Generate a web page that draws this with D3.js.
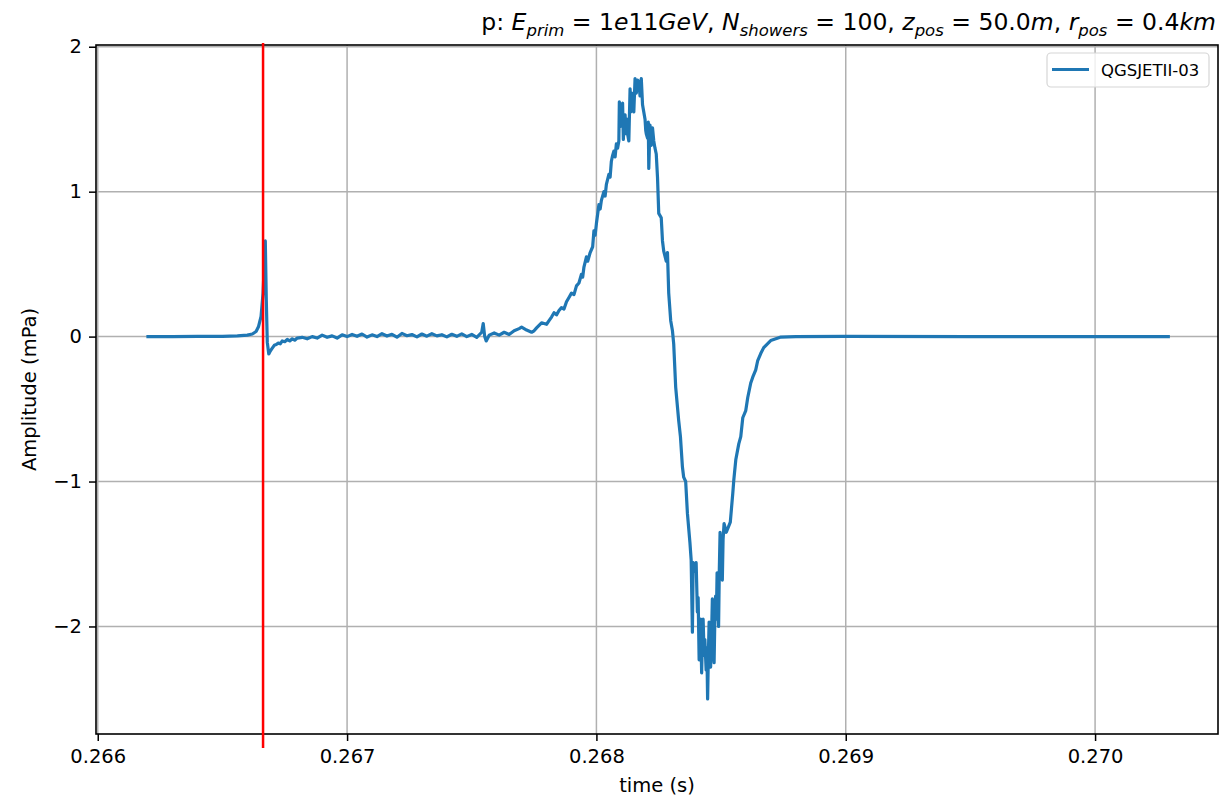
<html>
  <head>
    <title>Waveform</title>
    <meta charset="utf-8" />
    <script src="https://cdnjs.cloudflare.com/ajax/libs/d3/7.6.1/d3.min.js"></script>
    <style>
      body { margin: 0; background: #fff; }
      text { font-family: "DejaVu Sans", sans-serif; fill: #000; }
      .grid line { stroke: #b0b0b0; stroke-width: 1.5; }
      .axis path { display: none; }
      .axis line { stroke: #000; stroke-width: 1.5; }
      .axis text { font-size: 19.5px; }
    </style>
  </head>
  <body>
    <svg width="1223" height="800"></svg>
  </body>

  <script>
    // pressure trace (time in s, amplitude in mPa)
    const times = [
      // baseline, first spike, noise
      0.266195, 0.266300, 0.266400, 0.266500, 0.266560, 0.266600, 0.266620, 0.266635, 0.266645, 0.266655,
      0.266663, 0.266672, 0.266676, 0.266680, 0.266686, 0.266692, 0.266700, 0.266708, 0.266716, 0.266724,
      0.266732, 0.266740, 0.266750, 0.266760, 0.266770, 0.266780, 0.266790, 0.266800, 0.266820, 0.266840,
      0.266860, 0.266880, 0.266900, 0.266920, 0.266940, 0.266960, 0.266980, 0.267000, 0.267020, 0.267040,
      0.267060, 0.267080, 0.267100, 0.267120, 0.267140, 0.267160, 0.267180, 0.267200, 0.267220, 0.267240,
      0.267260, 0.267280, 0.267300, 0.267320, 0.267340, 0.267360, 0.267380, 0.267400, 0.267420, 0.267440,
      0.267460, 0.267480, 0.267500, 0.267520, 0.267540, 0.267546, 0.267552, 0.267558, 0.267570, 0.267590,
      0.267610, 0.267630, 0.267650, 0.267670, 0.267690, 0.267700, 0.267720, 0.267740, 0.267750, 0.267760,
      // rise
      0.267780, 0.267800, 0.267810, 0.267820, 0.267830, 0.267840, 0.267850, 0.267860, 0.267870, 0.267880,
      0.267890, 0.267900, 0.267910, 0.267920, 0.267930, 0.267940, 0.267945, 0.267950, 0.267960, 0.267965,
      0.267975, 0.267985, 0.267990, 0.267995, 0.268000, 0.268010, 0.268015, 0.268020, 0.268030, 0.268035,
      0.268040, 0.268050, 0.268055,
      // peak
      0.268060, 0.268065, 0.268070, 0.268075, 0.268080, 0.268085, 0.268090, 0.268092, 0.268097, 0.268100,
      0.268105, 0.268108, 0.268111, 0.268115, 0.268118, 0.268122, 0.268125, 0.268130, 0.268135, 0.268138,
      0.268142, 0.268145, 0.268150, 0.268155, 0.268160, 0.268165, 0.268170, 0.268175, 0.268180, 0.268185,
      0.268190, 0.268195, 0.268198, 0.268200, 0.268205, 0.268208, 0.268210, 0.268215, 0.268220, 0.268225,
      0.268230, 0.268235, 0.268240, 0.268245,
      // descent
      0.268250, 0.268260, 0.268265, 0.268270, 0.268280, 0.268285, 0.268290, 0.268298, 0.268305, 0.268310,
      0.268318, 0.268330, 0.268337, 0.268345, 0.268350, 0.268358, 0.268365, 0.268375, 0.268380,
      // trough
      0.268385, 0.268388, 0.268395, 0.268400, 0.268405, 0.268408, 0.268412, 0.268415, 0.268418, 0.268422,
      0.268425, 0.268428, 0.268432, 0.268435, 0.268440, 0.268443, 0.268446, 0.268449, 0.268452, 0.268455,
      0.268458, 0.268462, 0.268465, 0.268468, 0.268472, 0.268475, 0.268478, 0.268481, 0.268484, 0.268487,
      0.268490, 0.268493, 0.268496, 0.268500, 0.268505, 0.268508, 0.268512,
      // recovery and tail
      0.268521, 0.268537, 0.268547, 0.268551, 0.268559, 0.268571, 0.268579, 0.268587, 0.268599, 0.268607,
      0.268619, 0.268627, 0.268639, 0.268647, 0.268659, 0.268671, 0.268699, 0.268740, 0.268800, 0.269000,
      0.269500, 0.270000, 0.270300
    ];
    const amplitude = [
      // baseline, first spike, noise
      0, 0, 0.001, 0.002, 0.005, 0.01, 0.018, 0.035, 0.07, 0.14,
      0.30, 0.66, 0.25, -0.04, -0.12, -0.10, -0.08, -0.06, -0.055, -0.045,
      -0.05, -0.03, -0.035, -0.02, -0.03, -0.015, -0.025, -0.01, -0.005, -0.015,
      0.0, -0.01, 0.01, -0.005, 0.005, -0.01, 0.012, 0.0, 0.015, 0.002,
      0.018, -0.003, 0.012, 0.0, 0.02, 0.004, 0.016, -0.004, 0.022, 0.006,
      0.014, -0.002, 0.018, 0.003, 0.02, 0.005, 0.013, -0.002, 0.016, 0.002,
      0.019, 0.0, 0.015, -0.005, 0.03, 0.09, 0.0, -0.03, 0.01, 0.025,
      0.01, 0.03, 0.015, 0.04, 0.055, 0.065, 0.045, 0.03, 0.04, 0.06,
      // rise
      0.095, 0.085, 0.11, 0.135, 0.165, 0.15, 0.18, 0.20, 0.19, 0.24,
      0.27, 0.30, 0.29, 0.35, 0.37, 0.43, 0.41, 0.48, 0.55, 0.52,
      0.58, 0.62, 0.73, 0.70, 0.78, 0.91, 0.88, 0.94, 1.0, 0.97,
      1.05, 1.12, 1.10,
      // peak
      1.21, 1.25, 1.28, 1.24, 1.33, 1.30, 1.35, 1.62, 1.45, 1.60,
      1.61, 1.36, 1.48, 1.53, 1.40, 1.50, 1.40, 1.35, 1.71, 1.55,
      1.68, 1.60, 1.55, 1.78, 1.68, 1.77, 1.76, 1.66, 1.78, 1.60,
      1.55, 1.50, 1.42, 1.40, 1.37, 1.48, 1.16, 1.46, 1.32, 1.44,
      1.35, 1.30, 1.26, 1.10,
      // descent
      0.85, 0.82, 0.66, 0.59, 0.52, 0.58, 0.30, 0.11, 0.04, -0.05,
      -0.35, -0.58, -0.69, -0.90, -0.97, -1.0, -1.22, -1.42, -1.54,
      // trough
      -2.04, -1.56, -1.62, -1.56, -1.90, -1.80, -2.23, -2.05, -1.95, -2.32,
      -2.10, -1.95, -2.20, -2.09, -2.30, -2.15, -2.50, -2.20, -1.97, -2.15,
      -2.28, -2.05, -1.81, -2.10, -2.25, -1.95, -1.79, -1.95, -1.63, -1.85,
      -2.0, -1.60, -1.35, -1.55, -1.68, -1.40, -1.29,
      // recovery and tail
      -1.35, -1.28, -1.08, -0.99, -0.85, -0.74, -0.69, -0.56, -0.51, -0.42,
      -0.32, -0.28, -0.23, -0.165, -0.117, -0.076, -0.027, -0.003, 0, 0.001,
      0, 0, 0
    ];
    const markerTime = 0.266663; // red vertical line
    const xTicks = [0.266, 0.267, 0.268, 0.269, 0.270];
    const xTickLabels = ["0.266", "0.267", "0.268", "0.269", "0.270"];
    const yTicks = [-2, -1, 0, 1, 2];
    const yTickLabels = ["\u22122", "\u22121", "0", "1", "2"];
    const seriesName = "QGSJETII-03";

    let svg = d3.select("svg"),
      margin = { top: 45, right: 5, bottom: 66, left: 96 },
      width = +svg.attr("width") - margin.left - margin.right,
      height = +svg.attr("height") - margin.top - margin.bottom;

    let x = d3.scaleLinear().domain([0.265993, 0.270493]).range([0, width]),
      y = d3.scaleLinear().domain([-2.742, 2.012]).range([height, 0]);

    let g = svg.append("g").attr("transform", `translate(${margin.left},${margin.top})`);

    // grid
    g.append("g").attr("class", "grid")
      .selectAll("line").data(xTicks).enter().append("line")
      .attr("x1", (d) => x(d)).attr("x2", (d) => x(d))
      .attr("y1", 0).attr("y2", height);
    g.append("g").attr("class", "grid")
      .selectAll("line").data(yTicks).enter().append("line")
      .attr("y1", (d) => y(d)).attr("y2", (d) => y(d))
      .attr("x1", 0).attr("x2", width);

    // trace
    let data = times.map((t, i) => [t, amplitude[i]]);
    g.append("path")
      .datum(data)
      .attr("fill", "none")
      .attr("stroke", "#1f77b4")
      .attr("stroke-width", 3.2)
      .attr("stroke-linejoin", "round")
      .attr("d", d3.line().x((d) => x(d[0])).y((d) => y(d[1])));

    // frame
    g.append("rect")
      .attr("width", width).attr("height", height)
      .attr("fill", "none").attr("stroke", "#000").attr("stroke-width", 1.6);

    // red marker, drawn a bit below the axis like the original
    g.append("line")
      .attr("x1", x(markerTime)).attr("x2", x(markerTime))
      .attr("y1", -2).attr("y2", height + 14)
      .attr("stroke", "#ff0000").attr("stroke-width", 2.5);

    // axes
    g.append("g")
      .attr("class", "axis")
      .attr("transform", `translate(0,${height})`)
      .call(d3.axisBottom(x).tickValues(xTicks).tickSize(7).tickPadding(8)
        .tickFormat((d, i) => xTickLabels[i]));
    g.append("g")
      .attr("class", "axis")
      .call(d3.axisLeft(y).tickValues(yTicks).tickSize(7).tickPadding(7)
        .tickFormat((d, i) => yTickLabels[i]));

    // axis labels
    svg.append("text")
      .attr("x", margin.left + width / 2).attr("y", 792)
      .attr("text-anchor", "middle").style("font-size", "19.5px")
      .text("time (s)");
    svg.append("text")
      .attr("transform", `translate(36,${margin.top + height / 2}) rotate(-90)`)
      .attr("text-anchor", "middle").style("font-size", "19.5px")
      .text("Amplitude (mPa)");

    // title with italic math parts and subscripts
    const titleParts = [
      ["p: ", "n"], ["E", "i"], ["prim", "s"], [" = 1", "n"], ["e", "i"], ["11", "n"], ["GeV", "i"],
      [", ", "n"], ["N", "i"], ["showers", "s"], [" = 100, ", "n"], ["z", "i"], ["pos", "s"],
      [" = 50.0", "n"], ["m", "i"], [", ", "n"], ["r", "i"], ["pos", "s"], [" = 0.4", "n"], ["km", "i"]
    ];
    let title = svg.append("text")
      .attr("x", 1216).attr("y", 30)
      .attr("text-anchor", "end")
      .style("font-size", "23.5px")
      .attr("xml:space", "preserve");
    let down = false;
    titleParts.forEach(([txt, kind]) => {
      let ts = title.append("tspan").text(txt);
      if (kind === "s") {
        ts.style("font-style", "italic").style("font-size", "16.5px");
        if (!down) { ts.attr("dy", 5.5); down = true; }
      } else {
        if (kind === "i") ts.style("font-style", "italic");
        if (down) { ts.attr("dy", -5.5); down = false; }
      }
    });

    // legend
    let lg = svg.append("g");
    lg.append("rect")
      .attr("x", 1047).attr("y", 53).attr("width", 162).attr("height", 34).attr("rx", 4)
      .attr("fill", "#fff").attr("fill-opacity", 0.8)
      .attr("stroke", "#d6d6d6").attr("stroke-width", 1.2);
    lg.append("line")
      .attr("x1", 1052).attr("x2", 1089).attr("y1", 69.5).attr("y2", 69.5)
      .attr("stroke", "#1f77b4").attr("stroke-width", 3);
    lg.append("text")
      .attr("x", 1101).attr("y", 75.5)
      .style("font-size", "16.5px")
      .text(seriesName);
  </script>
</html>
